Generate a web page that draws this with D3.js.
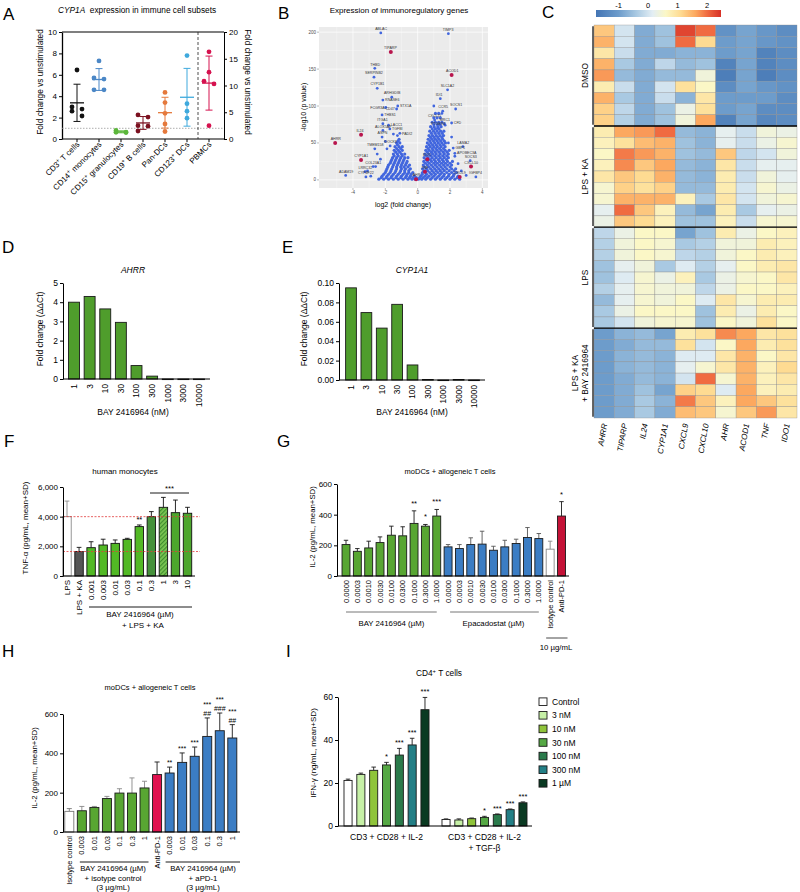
<!DOCTYPE html>
<html lang="en">
<head>
<meta charset="UTF-8">
<title>BAY 2416964 - immune cell figure</title>
<script src="https://d3js.org/d3.v7.min.js"></script>
<style>
  body { margin: 0; background: #fff; }
  svg { font-family: "Liberation Sans", Arial, sans-serif; display: block; }
</style>
</head>
<body>
<svg id="fig" width="800" height="892"></svg>
<script>
// ---------- A : CYP1A in immune cell subsets ----------
const subsets = ["CD3^+ T cells", "CD14^+ monocytes", "CD15^+ granulocytes", "CD19^+ B cells", "Pan-DCs", "CD123^+ DCs", "PBMCs"];
const subsetValues = [[6.45, 3.0, 2.8, 2.6, 2.15], [7.3, 5.7, 5.6, 4.6, 4.6], [0.8, 0.65, 0.62, 0.6], [2.25, 2.05, 1.25, 1.2, 0.75],
                      [4.35, 3.4, 2.4, 1.4, 0.7], [7.8, 3.3, 2.6, 1.95], [16.3, 12.5, 10.8, 10.3, 2.5]];
const subsetMean = [3.38, 5.56, 0.67, 1.5, 2.46, 3.9, 10.45];
const subsetSD = [1.74, 1.02, 0.09, 0.6, 1.44, 2.7, 5.05];

// ---------- B : volcano ----------
// y level (-log10 p) and the log2 fold changes found at that level
const volcanoLevels = [1, 5, 10, 15, 20, 25, 30, 35, 40, 45, 50, 55, 60, 66, 72, 78, 84, 90,
                       3, 7.5, 12.5, 17.5, 22.5, 27.5, 32.5, 37.5, 42.5, 47.5, 52.5, 57.5, 63, 69, 75];
const volcanoFC = [
  [-2.4, -2.1, -1.8, -1.5, -1.2, -0.9, -0.6, -0.35, -0.15, 0.05, 0.25, 0.5, 0.8, 1.1, 1.4, 1.7, 2.0, 2.3, 2.6],
  [-2.2, -1.9, -1.6, -1.3, -1.0, -0.7, -0.45, -0.2, 0.2, 0.45, 0.7, 1.0, 1.3, 1.6, 1.9, 2.2, 2.5],
  [-2.0, -1.7, -1.4, -1.1, -0.8, -0.55, -0.3, 0.3, 0.5, 0.75, 1.0, 1.25, 1.5, 1.8, 2.1, 2.4],
  [-1.9, -1.6, -1.3, -1.0, -0.75, -0.45, 0.3, 0.55, 0.8, 1.05, 1.3, 1.55, 1.8, 2.1, 2.35],
  [-1.8, -1.5, -1.25, -1.0, -0.75, -0.5, 0.35, 0.6, 0.85, 1.1, 1.35, 1.6, 1.85, 2.1],
  [-1.65, -1.4, -1.15, -0.9, -0.65, 0.38, 0.62, 0.86, 1.1, 1.35, 1.6, 1.85, 2.15],
  [-1.55, -1.3, -1.05, -0.8, -0.6, 0.4, 0.65, 0.9, 1.15, 1.4, 1.65, 1.9],
  [-1.5, -1.25, -1.0, -0.8, 0.45, 0.68, 0.92, 1.15, 1.4, 1.65, 1.9],
  [-1.45, -1.2, -0.95, 0.5, 0.72, 0.95, 1.2, 1.45, 1.7, 1.95],
  [-1.4, -1.15, -0.95, 0.55, 0.78, 1.0, 1.22, 1.45, 1.7],
  [-1.3, -1.1, 0.6, 0.82, 1.05, 1.28, 1.5, 1.72],
  [-1.15, 0.65, 0.88, 1.1, 1.32, 1.55],
  [0.7, 0.92, 1.15, 1.38, 1.6],
  [0.75, 0.98, 1.2, 1.42, 1.62],
  [0.8, 1.02, 1.25, 1.45],
  [0.9, 1.1, 1.3, 1.5],
  [1.0, 1.2, 1.4],
  [1.1, 1.3],
  [-2.25, -1.95, -1.65, -1.35, -1.05, -0.75, -0.5, -0.28, -0.08, 0.12, 0.35, 0.6, 0.9, 1.2, 1.5, 1.8, 2.1, 2.45],
  [-2.1, -1.8, -1.5, -1.2, -0.9, -0.65, -0.4, 0.28, 0.55, 0.85, 1.1, 1.4, 1.65, 1.95, 2.25],
  [-1.95, -1.65, -1.35, -1.05, -0.8, -0.55, 0.38, 0.62, 0.9, 1.15, 1.4, 1.65, 1.95, 2.25],
  [-1.85, -1.55, -1.3, -1.05, -0.85, -0.6, 0.42, 0.7, 0.95, 1.2, 1.45, 1.7, 2.0],
  [-1.7, -1.45, -1.2, -0.95, -0.7, 0.48, 0.72, 1.0, 1.22, 1.48, 1.72, 2.0],
  [-1.6, -1.35, -1.1, -0.85, 0.52, 0.78, 1.02, 1.28, 1.52, 1.78],
  [-1.45, -1.2, -0.95, 0.55, 0.8, 1.05, 1.3, 1.55, 1.8],
  [-1.35, -1.1, 0.6, 0.85, 1.08, 1.32, 1.58, 1.82],
  [-1.3, -1.05, 0.65, 0.9, 1.12, 1.35, 1.6],
  [-1.25, 0.7, 0.92, 1.15, 1.38, 1.6],
  [-1.2, 0.75, 0.98, 1.2, 1.42, 1.65],
  [0.8, 1.02, 1.25, 1.5],
  [0.85, 1.08, 1.3, 1.52],
  [0.9, 1.1, 1.32],
  [1.0, 1.22, 1.38]
];
const volcanoExtra = [[-2.6, 18], [-2.9, 5], [-3.1, 12], [2.7, 12], [3.0, 6], [-2.3, 28], [2.3, 32], [-1.9, 42], [1.9, 50],
                      [-2.0, 52], [2.1, 58], [1.7, 74], [1.5, 90], [-1.5, 62], [-1.25, 60], [1.0, 100], [2.5, 22], [-2.5, 35]];
const volcanoGenes = [
  ["ABLAC", -2.28, 199], ["THBD", -2.65, 151], ["SERPINB2", -2.7, 139], ["CYP1B1", -2.5, 124], ["ARHGDIB", -1.6, 112],
  ["RNASE6", -2.15, 108], ["STX1A", -1.23, 100], ["FCGR3A", -1.97, 98], ["CD47", -1.3, 96], ["THBS1", -2.2, 88],
  ["ITGA1", -2.15, 76], ["LACC1", -1.8, 74], ["TGFBI", -1.72, 69], ["ALOX5AP", -2.15, 67], ["PADI2", -1.1, 63],
  ["ASPN", -2.2, 58], ["DOCK8", -1.7, 46], ["TMEM158", -2.65, 42], ["COL23A1", -2.75, 18], ["LRRC32", -3.25, 11],
  ["CYP4F22", -3.2, 4], ["ADAM19", -4.45, 6], ["TIMP3", 1.9, 198], ["SLC1A2", 1.85, 122], ["IDI1", 1.4, 110],
  ["CCR5", 1.55, 93], ["SOCS1", 2.35, 96], ["CXCL11", 1.05, 81], ["MRC1", 1.65, 76], ["CFD", 2.1, 77],
  ["PTGER4", 1.25, 70], ["LAMA2", 2.8, 45], ["GBP1", 2.2, 43], ["APOBEC3A", 2.3, 36], ["SOCS3", 3.25, 26], ["IGFBP4", 3.6, 4]
];
const volcanoHits = [["TIPARP", -1.66, 173], ["IL24", -3.5, 61], ["AHRR", -5.1, 50], ["CYP1A1", -3.5, 27], ["ACOD1", 2.1, 142],
                     ["CXCL10", 3.3, 18], ["CXCL9", 2.6, 4], ["TNF", 0.45, 11], ["IDO1", 0.6, 28], ["AHR", -0.1, 1]];

// ---------- C : heatmap ----------
const heatGenes = ["AHRR", "TIPARP", "IL24", "CYP1A1", "CXCL9", "CXCL10", "AHR", "ACOD1", "TNF", "IDO1"];
const heatGroups = ["DMSO", "LPS + KA", "LPS", "LPS + KA|+ BAY 2416964"];
const heatRows = [9, 9, 9, 8];
const heatValues = [
  [1.3, 0.0, -0.8, -0.5, 2.3, 2.0, -1.2, -0.9, -1.1, -1.3],
  [1.5, 0.0, -0.8, -0.5, 2.0, 1.1, -1.0, -0.9, -1.1, -1.2],
  [0.9, -0.1, -0.8, -0.8, -0.7, -0.7, -1.0, -0.9, -1.5, -1.3],
  [1.5, -0.4, -0.8, -0.2, -0.6, -0.5, -1.5, -0.9, -1.5, -1.3],
  [1.7, -0.6, -0.8, -0.6, -0.6, 0.4, -1.6, -0.9, -1.6, -1.3],
  [0.8, -0.1, -0.8, 0.0, 1.0, 0.6, -1.3, -0.9, -1.1, -1.2],
  [1.5, -0.4, -0.8, -0.1, -0.7, 0.9, -1.0, -1.0, -1.0, -1.3],
  [1.2, -0.2, -0.8, -0.5, 0.3, 1.0, -1.0, -0.9, -1.3, -1.3],
  [1.2, -0.3, -0.8, -0.5, 0.4, 1.6, -1.5, -0.9, -1.4, -1.3],
  [0.8, 1.6, 1.7, 2.0, -0.6, -0.7, 0.2, -0.1, 0.4, 0.3],
  [0.7, 1.0, 1.4, 1.5, -0.5, -0.7, 0.2, -0.1, 0.3, 0.5],
  [0.6, 1.9, 1.7, 1.5, -0.5, -0.6, 1.3, -0.2, 0.0, 0.4],
  [0.7, 1.8, 1.3, 1.6, -0.6, -0.7, 0.9, -0.1, 0.2, 0.2],
  [0.9, 1.3, 1.1, 1.5, -0.6, -0.7, 0.8, -0.1, 0.4, 0.2],
  [0.5, 1.2, 1.0, 1.2, -0.6, -0.6, 0.8, 0.0, 0.5, 0.3],
  [0.5, 1.5, 1.5, 1.5, 0.7, -0.4, 0.9, 0.0, 0.4, 0.5],
  [0.2, 2.0, 1.3, 0.7, -0.6, -0.9, 0.8, -0.4, 0.2, 0.3],
  [0.3, 1.3, 1.1, 0.7, -0.5, -0.5, 0.7, -0.1, 0.5, 0.5],
  [-0.2, 0.3, 0.6, 0.6, -0.9, -0.5, 0.8, 0.3, 0.6, 0.7],
  [-0.3, 0.4, 0.6, 0.5, -0.4, -0.3, 0.4, 0.4, 0.8, 0.7],
  [-0.3, 0.4, 0.6, 0.5, -0.2, -0.3, 0.4, 0.6, 0.8, 0.7],
  [-0.5, 0.2, 0.4, -0.4, 0.1, -0.3, 0.2, 0.6, 0.8, 0.9],
  [-0.5, 0.1, 0.5, 0.3, 0.7, -0.4, 0.3, 0.5, 0.6, 0.9],
  [-0.3, 0.2, 0.5, 0.4, 0.4, -0.2, 0.3, 0.6, 0.6, 0.7],
  [-0.6, 0.2, 0.5, 0.4, 0.6, 0.1, 0.9, 0.5, 0.8, 0.8],
  [-0.4, 0.3, 0.6, 0.6, 0.6, -0.5, 0.8, 0.3, 0.8, 0.6],
  [-0.4, 0.0, 0.4, 0.5, 0.5, -0.5, 0.6, 0.4, 1.0, 0.6],
  [-1.0, -0.7, -0.6, -0.9, 0.8, 1.0, 1.8, 1.6, 0.9, 1.0],
  [-1.0, -0.8, -0.6, -0.6, 1.0, 0.0, 0.6, 1.6, 0.8, 1.0],
  [-1.0, -0.7, -0.6, -0.7, 0.1, 0.1, 0.9, 1.5, 0.6, 0.9],
  [-1.0, -0.7, -0.6, -0.7, 0.2, 0.5, 0.9, 1.5, 0.7, 1.1],
  [-1.0, -0.8, -0.6, -0.7, 0.0, 2.0, 0.5, 1.5, 0.7, 0.9],
  [-1.0, -0.8, -0.5, -0.9, 1.2, 1.1, 0.1, 1.6, 0.7, 0.8],
  [-1.0, -0.8, -0.4, -0.7, 1.9, 1.3, 0.7, 1.6, 1.3, 1.0],
  [-1.0, -0.8, -0.4, -0.8, 1.4, 1.3, 0.5, 1.3, 1.7, 0.9]
];
const heatTicks = [-1, 0, 1, 2];

// ---------- D / E : dose response ----------
const doseNM = ["1", "3", "10", "30", "100", "300", "1000", "3000", "10000"];
const ahrrFold = [4.0, 4.3, 3.65, 2.95, 0.7, 0.15, 0, 0, 0];
const cyp1a1Fold = [0.095, 0.0695, 0.0535, 0.078, 0.0155, 0.0005, 0, 0.0005, 0];

// ---------- F : TNF-a in monocytes ----------
const tnfLabels = ["LPS", "LPS + KA", "0.001", "0.003", "0.01", "0.03", "0.1", "0.3", "1", "3", "10"];
const tnfMean = [4000, 1650, 1910, 2090, 2200, 2470, 3330, 4000, 4630, 4270, 4230];
const tnfSD = [1050, 280, 400, 390, 230, 70, 110, 340, 670, 850, 400];
const tnfSig = ["", "", "", "", "", "", "**", "", "", "", ""];
const tnfRefLines = [4000, 1650];

// ---------- G : IL-2, moDC + T cells ----------
const gDoses = ["0.0000", "0.0003", "0.0010", "0.0030", "0.0100", "0.0300", "0.1000", "0.3000", "1.0000"];
const gBayMean = [205, 161, 183, 218, 266, 262, 343, 325, 391];
const gBaySD = [28, 18, 44, 37, 59, 59, 82, 11, 43];
const gBaySig = ["", "", "", "", "", "", "**", "*", "***"];
const gEpaMean = [190, 179, 205, 208, 168, 190, 212, 251, 244];
const gEpaSD = [15, 26, 44, 84, 26, 43, 28, 65, 33];
const gCtrlLabels = ["Isotype control", "Anti-PD-1"];
const gCtrlMean = [175, 391];
const gCtrlSD = [52, 94];
const gCtrlSig = ["", "*"];

// ---------- H : IL-2 with aPD-1 ----------
const hLabels = ["Isotype control", "0.003", "0.01", "0.03", "0.1", "0.3", "1", "Anti-PD-1", "0.003", "0.01", "0.03", "0.1", "0.3", "1"];
const hMean = [105, 108, 125, 170, 198, 198, 224, 292, 300, 354, 385, 486, 515, 478];
const hSD = [14, 22, 5, 11, 22, 77, 34, 64, 30, 48, 47, 94, 90, 68];
const hSigStar = ["", "", "", "", "", "", "", "", "**", "***", "***", "***", "***", "***"];
const hSigHash = ["", "", "", "", "", "", "", "", "", "", "", "##", "###", "##"];

// ---------- I : IFN-g in CD4+ T cells ----------
const iDoses = ["Control", "3 nM", "10 nM", "30 nM", "100 nM", "300 nM", "1 \u00b5M"];
const iGroups = ["CD3 + CD28 + IL-2", "CD3 + CD28 + IL-2|+ TGF-\u03b2"];
const iMean = [[21.2, 24.0, 25.9, 28.4, 33.0, 37.7, 54.1], [3.0, 2.8, 3.4, 4.0, 5.3, 7.6, 10.8]];
const iSD = [[0.6, 0.6, 1.5, 1.2, 3.1, 3.1, 5.7], [0.3, 0.5, 0.3, 0.5, 0.3, 0.3, 0.4]];
const iSig = [["", "", "", "*", "***", "***", "***"], ["", "", "", "*", "***", "***", "***"]];

// =====================================================================
const svg = d3.select("#fig");
const defs = svg.append("defs");

function text(x, y, s, fs, anchor, g) {
  return (g || svg).append("text").attr("x", x).attr("y", y)
    .attr("font-size", fs).attr("text-anchor", anchor || "start").text(s);
}
// "CD3^+" -> superscript "+"
function rich(t, s, fs) {
  let back = 0;
  s.split(/(\^.)/).forEach(p => {
    if (!p) return;
    if (p[0] === "^") {
      t.append("tspan").attr("dy", -fs * 0.38).attr("font-size", fs * 0.7).text(p.slice(1));
      back = fs * 0.38;
    } else {
      t.append("tspan").attr("dy", back).text(p);
      back = 0;
    }
  });
  return t;
}
function line(x1, y1, x2, y2, color, w, dash) {
  return svg.append("line").attr("x1", x1).attr("y1", y1).attr("x2", x2).attr("y2", y2)
    .attr("stroke", color || "#000").attr("stroke-width", w || 1).attr("stroke-dasharray", dash || null);
}
function panelLetter(s, x, y) { text(x, y, s, 17); }
function yTitle(x, y, s, fs) {
  return svg.append("text").attr("transform", `translate(${x},${y}) rotate(-90)`)
    .attr("text-anchor", "middle").attr("font-size", fs).text(s);
}
function leftAxis(scale, x, ticks, fmt, fs) {
  const g = svg.append("g").attr("transform", `translate(${x},0)`)
    .call(d3.axisLeft(scale).tickValues(ticks).tickFormat(fmt || d3.format("d"))
      .tickSize(3).tickSizeOuter(0).tickPadding(2));
  g.attr("font-family", null).attr("font-size", fs);
  g.selectAll("line,path").attr("stroke", "#000");
  return g;
}
function rotLabels(xs, labels, y, fs) {
  labels.forEach((s, i) => {
    svg.append("text").attr("transform", `translate(${xs[i]},${y}) rotate(-90)`)
      .attr("text-anchor", "end").attr("dy", "0.35em").attr("font-size", fs).text(s);
  });
}
// band whose centres sit at c0 ... cN
function bandX(domain, c0, cN, pad) {
  const s = (cN - c0) / (domain.length - 1);
  return d3.scaleBand().domain(domain).range([c0 - s / 2, cN + s / 2]).paddingInner(pad).paddingOuter(pad / 2);
}
function drawBars(xs, bw, y, means, sds, fillOf, strokeOf, errOf) {
  means.forEach((m, i) => {
    const top = y(m), base = y(0);
    if (sds && sds[i] > 0) {
      const e = y(m + sds[i]);
      const c = errOf ? errOf(i) : strokeOf(i);
      line(xs[i], top, xs[i], e, c, 0.9);
      line(xs[i] - bw * 0.28, e, xs[i] + bw * 0.28, e, c, 0.9);
    }
    svg.append("rect").attr("x", xs[i] - bw / 2).attr("y", top).attr("width", bw).attr("height", Math.max(base - top, 0.6))
      .attr("fill", fillOf(i)).attr("stroke", strokeOf(i)).attr("stroke-width", 0.9);
  });
}
function sigText(x, yTop, s, fs) {
  if (s) text(x, yTop - 3, s, fs, "middle");
}
// points spread left / right when they overlap
function swarm(vals, y, cx) {
  const sorted = vals.slice().sort((a, b) => b - a);
  const out = [];
  let cluster = [];
  const flush = () => {
    cluster.forEach((v, k) => out.push([cx + (cluster.length === 1 ? 0 : (k % 2 ? 5 : -5)), y(v)]));
    cluster = [];
  };
  sorted.forEach(v => {
    if (cluster.length && y(v) - y(cluster[cluster.length - 1]) >= 5) flush();
    cluster.push(v);
  });
  flush();
  return out;
}

// ---------------- A ----------------
function drawA() {
  panelLetter("A", 3, 20);
  const t = text(58, 13, "", 8.3);
  t.append("tspan").attr("font-style", "italic").text("CYP1A");
  t.append("tspan").text("\u00a0 expression in immune cell subsets");
  const subsetColors = ["#111111", "#4b87c6", "#5cb73b", "#7b1120", "#e5793c", "#3fa9dd", "#d5124f"];
  const x = d3.scalePoint().domain(subsets).range([77, 209]);
  const yL = d3.scaleLinear().domain([0, 10]).range([139, 32]);
  const yR = d3.scaleLinear().domain([0, 20]).range([139, 32]);
  leftAxis(yL, 62, d3.range(0, 11, 2), null, 8).select(".domain").attr("stroke-width", 1.3);
  const r = svg.append("g").attr("transform", "translate(224,0)")
    .call(d3.axisRight(yR).tickValues(d3.range(0, 21, 5)).tickSize(3).tickSizeOuter(0).tickPadding(2));
  r.attr("font-family", null).attr("font-size", 8);
  r.selectAll("line,path").attr("stroke", "#000");
  line(62, 32, 224, 32, "#000", 1.1);
  line(62, 139, 224, 139, "#000", 1.1);
  line(62, yL(1), 224, yL(1), "#999", 0.8, "1.5,1.5");
  line(198, 32, 198, 139, "#222", 0.8, "3,2");
  subsets.forEach((s, i) => {
    const y = i === 6 ? yR : yL;
    const col = subsetColors[i], cx = x(s);
    const m = subsetMean[i], sd = subsetSD[i];
    line(cx, 139, cx, 142);
    line(cx, y(m - sd), cx, y(m + sd), col, 1);
    line(cx - 3.5, y(m + sd), cx + 3.5, y(m + sd), col, 1);
    line(cx - 3.5, y(m - sd), cx + 3.5, y(m - sd), col, 1);
    line(cx - 7, y(m), cx + 7, y(m), col, 1.3);
    swarm(subsetValues[i], y, cx).forEach(p =>
      svg.append("circle").attr("cx", p[0]).attr("cy", p[1]).attr("r", 2.4).attr("fill", col));
    rich(svg.append("text").attr("transform", `translate(${cx + 3},145) rotate(-45)`)
      .attr("text-anchor", "end").attr("font-size", 8), s, 8);
  });
  yTitle(43, 82, "Fold change vs unstimulated", 8.3);
  svg.append("text").attr("transform", "translate(245,82) rotate(90)").attr("text-anchor", "middle")
    .attr("font-size", 8.3).text("Fold change vs unstimulated");
}

// ---------------- B ----------------
function drawB() {
  panelLetter("B", 278, 19);
  text(399, 13, "Expression of immunoregulatory genes", 8, "middle");
  const x = d3.scaleLinear().domain([-6.1, 4.35]).range([319, 488]);
  const y = d3.scaleLinear().domain([-11, 207]).range([188, 27]);
  svg.append("rect").attr("x", 319).attr("y", 27).attr("width", 169).attr("height", 161).attr("fill", "#ebebeb");
  d3.range(-5, 5).forEach(v => line(x(v), 27, x(v), 188, "#fff", v % 2 === 0 ? 0.7 : 0.3));
  d3.range(0, 201, 25).forEach(v => line(319, y(v), 488, y(v), "#fff", v % 50 === 0 ? 0.7 : 0.3));
  [-4, -2, 0, 2, 4].forEach(v => {
    line(x(v), 188, x(v), 190, "#555", 0.4);
    text(x(v), 194, v, 4.5, "middle").attr("fill", "#4d4d4d");
  });
  [0, 50, 100, 150, 200].forEach(v => {
    line(317, y(v), 319, y(v), "#555", 0.4);
    text(316, y(v) + 1.5, v, 4.5, "end").attr("fill", "#4d4d4d");
  });
  const g = svg.append("g");
  volcanoLevels.forEach((lv, k) => volcanoFC[k].forEach(fc =>
    g.append("circle").attr("cx", x(fc)).attr("cy", y(lv)).attr("r", 1.6).attr("fill", "#4166de")));
  volcanoExtra.concat(volcanoGenes.map(d => [d[1], d[2]])).forEach(p =>
    g.append("circle").attr("cx", x(p[0])).attr("cy", y(p[1])).attr("r", 1.4).attr("fill", "#4166de"));
  volcanoHits.forEach(d =>
    g.append("circle").attr("cx", x(d[1])).attr("cy", y(d[2])).attr("r", 2).attr("fill", "#b8154d"));
  // simple label repel: above, right, left, below - first free spot wins
  const fs = 3.6, boxes = [];
  volcanoHits.concat(volcanoGenes).forEach(d => {
    const px = x(d[1]), py = y(d[2]);
    const w = d[0].length * fs * 0.62, h = fs;
    const cands = [[px - w / 2, py - 2.2 - h], [px + 2.2, py - h / 2], [px - 2.2 - w, py - h / 2], [px - w / 2, py + 2.2],
                   [px + 2, py - 2 - h], [px - 2 - w, py - 2 - h]];
    const free = c => boxes.every(b => c[0] > b[0] + b[2] || c[0] + w < b[0] || c[1] > b[1] + b[3] || c[1] + h < b[1]);
    const c = cands.find(free) || cands[0];
    boxes.push([c[0], c[1], w, h]);
    text(c[0], c[1] + h * 0.82, d[0], fs, "start").attr("fill", "#333");
  });
  yTitle(306, 107, "-log10 (p value)", 7);
  text(403, 207, "log2 (fold change)", 7, "middle");
}

// ---------------- C ----------------
function drawC() {
  panelLetter("C", 542, 18);
  const stops = [-1.77, -1, -0.4, 0.15, 0.6, 1.1, 1.6, 2.0, 2.47];
  const cols = ["#4475b4", "#6d9ccb", "#a9c9e2", "#e3eef4", "#fbf7c6", "#fedb92", "#fca85f", "#f06b41", "#d73027"];
  const color = d3.scaleLinear().domain(stops).range(cols).clamp(true);
  const cb = d3.scaleLinear().domain([-1.77, 2.47]).range([596, 721]);
  const grad = defs.append("linearGradient").attr("id", "cbar");
  stops.forEach((s, i) => grad.append("stop").attr("offset", (cb(s) - 596) / 125).attr("stop-color", cols[i]));
  svg.append("rect").attr("x", 596).attr("y", 10).attr("width", 125).attr("height", 7).attr("fill", "url(#cbar)");
  heatTicks.forEach(v => text(cb(v), 7.5, v, 7.5, "middle"));

  const x = d3.scaleBand().domain(heatGenes).range([594, 797]);
  const y = d3.scaleBand().domain(d3.range(heatValues.length)).range([25, 418]);
  heatValues.forEach((row, r) => row.forEach((v, c) =>
    svg.append("rect").attr("x", x(heatGenes[c])).attr("y", y(r)).attr("width", x.bandwidth()).attr("height", y.bandwidth())
      .attr("fill", color(v)).attr("stroke", "#8c8c8c").attr("stroke-width", 0.35)));
  let start = 0;
  heatGroups.forEach((name, k) => {
    const n = heatRows[k];
    const y0 = y(start), y1 = y(start + n - 1) + y.bandwidth();
    line(593, y0 + 1.2, 593, y1 - 1.2, "#000", 1.2);
    if (k > 0) line(594, y0, 797, y0, "#000", 1.4);
    const parts = name.split("|");
    parts.forEach((p, j) => {
      const bx = 588 - (parts.length - 1 - j) * 10;
      svg.append("text").attr("transform", `translate(${bx},${(y0 + y1) / 2}) rotate(-90)`)
        .attr("text-anchor", "middle").attr("font-size", 8.3).text(p);
    });
    start += n;
  });
  heatGenes.forEach(gn =>
    svg.append("text").attr("transform", `translate(${x(gn) + x.bandwidth() / 2 + 3},424) rotate(-80)`)
      .attr("text-anchor", "end").attr("font-size", 8).attr("font-style", "italic").text(gn));
}

// ---------------- D / E ----------------
function drawDose(o) {
  panelLetter(o.letter, o.lx, 253);
  const x = bandX(doseNM, o.c0, o.cN, 0.3);
  const y = d3.scaleLinear().domain([0, o.max]).range([o.base, 283]);
  const xs = doseNM.map(d => x(d) + x.bandwidth() / 2);
  drawBars(xs, x.bandwidth(), y, o.values, null, () => "#4f9d2c", () => "#1a1a1a");
  leftAxis(y, o.ax, d3.range(0, o.max + o.max / 100, o.step), o.fmt, 8.5);
  line(o.ax, o.base, o.axEnd, o.base);
  rotLabels(xs, doseNM, o.base + 5, 8.3);
  text(o.tx, 273, o.title, 8.5, "middle").attr("font-style", "italic");
  text(o.tx, 415, "BAY 2416964 (nM)", 8.5, "middle");
  yTitle(o.ytx, 329, "Fold change (\u0394\u0394Ct)", 8.5);
}

// ---------------- F ----------------
function drawF() {
  panelLetter("F", 4, 447);
  text(125, 474, "human monocytes", 8, "middle");
  const x = bandX(d3.range(tnfLabels.length), 67, 187.5, 0.3);
  const y = d3.scaleLinear().domain([0, 6000]).range([576, 487]);
  const xs = tnfLabels.map((d, i) => x(i) + x.bandwidth() / 2);
  const pat = defs.append("pattern").attr("id", "hatch").attr("patternUnits", "userSpaceOnUse")
    .attr("width", 3).attr("height", 3).attr("patternTransform", "rotate(45)");
  pat.append("rect").attr("width", 3).attr("height", 3).attr("fill", "#7cc653");
  pat.append("rect").attr("width", 1.2).attr("height", 3).attr("fill", "#3f8f2e");
  const fills = i => i === 0 ? "#fff" : i === 1 ? "#555" : i === 7 ? "#45913b" : i === 8 ? "url(#hatch)" : i > 8 ? "#4da62d" : "#52b925";
  drawBars(xs, x.bandwidth(), y, tnfMean, tnfSD, fills, i => i === 0 ? "#8a8a8a" : "#111");
  tnfRefLines.forEach(v => line(63, y(v), 200, y(v), "#e23b3b", 0.8, "2,1.5"));
  leftAxis(y, 63, [0, 2000, 4000, 6000], d3.format(","), 8);
  line(63, 576, 195, 576);
  rotLabels(xs, tnfLabels, 580, 8);
  tnfSig.forEach((s, i) => sigText(xs[i], y(tnfMean[i] + tnfSD[i]), s, 7.5));
  line(150, 493, 189, 493, "#000", 0.9);
  text(169.5, 491, "***", 7.5, "middle");
  line(89, 607, 192, 607, "#000", 0.9);
  text(140, 617, "BAY 2416964 (\u00b5M)", 8, "middle");
  text(143, 628, "+ LPS + KA", 8, "middle");
  yTitle(28, 528, "TNF-\u03b1 (pg/mL, mean+SD)", 8);
}

// ---------------- G ----------------
function drawG() {
  panelLetter("G", 277, 447);
  text(450, 474, "moDCs + allogeneic T cells", 7.5, "middle");
  const labels = gDoses.concat(gDoses, gCtrlLabels);
  const means = gBayMean.concat(gEpaMean, gCtrlMean);
  const sds = gBaySD.concat(gEpaSD, gCtrlSD);
  const sig = gBaySig.concat(gDoses.map(() => ""), gCtrlSig);
  const x = bandX(d3.range(labels.length), 346, 561.5, 0.3);
  const y = d3.scaleLinear().domain([0, 600]).range([576, 484]);
  const xs = labels.map((d, i) => x(i) + x.bandwidth() / 2);
  const fills = i => i < 9 ? "#58a632" : i < 18 ? "#3b7dc4" : i === 18 ? "#fff" : "#c41237";
  drawBars(xs, x.bandwidth(), y, means, sds, fills, i => i === 18 ? "#888" : "#1a1a1a",
    i => i < 9 ? "#1a1a1a" : i < 18 ? "#555" : i === 18 ? "#888" : "#1a1a1a");
  leftAxis(y, 337, [0, 200, 400, 600], null, 8);
  line(337, 576, 569, 576);
  rotLabels(xs, labels, 580, 7.5);
  sig.forEach((s, i) => sigText(xs[i], y(means[i] + sds[i]) - 2, s, 7.5));
  line(xs[0], 612, xs[8], 612, "#777", 1);
  text((xs[0] + xs[8]) / 2, 626, "BAY 2416964 (\u00b5M)", 7.8, "middle");
  line(xs[9] + 2, 612, xs[17], 612, "#777", 1);
  text((xs[9] + xs[17]) / 2, 626, "Epacadostat (\u00b5M)", 7.8, "middle");
  line(xs[18] - 4, 638, xs[19] + 6, 638, "#333", 0.9);
  text(556, 650, "10 \u00b5g/mL", 7.8, "middle");
  yTitle(315, 527, "IL-2 (pg/mL, mean+SD)", 7.8);
}

// ---------------- H ----------------
function drawH() {
  panelLetter("H", 2, 657);
  text(150, 690, "moDCs + allogeneic T cells", 7.5, "middle");
  const x = bandX(d3.range(hLabels.length), 69.3, 232.3, 0.28);
  const y = d3.scaleLinear().domain([0, 600]).range([832, 714]);
  const xs = hLabels.map((d, i) => x(i) + x.bandwidth() / 2);
  const fills = i => i === 0 ? "#fff" : i < 7 ? "#58a632" : i === 7 ? "#e0124f" : "#3b7dc4";
  drawBars(xs, x.bandwidth(), y, hMean, hSD, fills, i => i === 0 ? "#777" : "#1a1a1a",
    i => i === 0 ? "#777" : i < 7 ? "#888" : "#1a1a1a");
  leftAxis(y, 63, [0, 200, 400, 600], null, 8);
  line(63, 832, 240, 832);
  rotLabels(xs, hLabels, 836, 7.5);
  hLabels.forEach((d, i) => {
    const e = y(hMean[i] + hSD[i]);
    if (hSigHash[i]) { text(xs[i], e - 2, hSigHash[i], 7, "middle"); text(xs[i], e - 11, hSigStar[i], 7, "middle"); }
    else sigText(xs[i], e + 1, hSigStar[i], 7);
  });
  line(xs[1] - 2, 862, xs[6] + 4, 862, "#000", 0.9);
  ["BAY 2416964 (\u00b5M)", "+ isotype control", "(3 \u00b5g/mL)"].forEach((s, k) => text(113, 871 + k * 9.5, s, 7.8, "middle"));
  line(xs[8] - 4, 862, 240, 862, "#000", 0.9);
  ["BAY 2416964 (\u00b5M)", "+ aPD-1", "(3 \u00b5g/mL)"].forEach((s, k) => text(203, 871 + k * 9.5, s, 7.8, "middle"));
  yTitle(37, 768, "IL-2  (pg/mL, mean+SD)", 7.8);
}

// ---------------- I ----------------
function drawI() {
  panelLetter("I", 286, 657);
  rich(text(439, 676, "", 8.3, "middle"), "CD4^+ T cells", 8.3);
  const doseCols = ["#ffffff", "#c6f0a6", "#8fc43a", "#55a844", "#2a7a4b", "#237f86", "#0a3a22"];
  const gx = d3.scaleBand().domain(iGroups).range([338, 533]).paddingInner(0.084).paddingOuter(0.037);
  const dx = d3.scaleBand().domain(iDoses).range([0, gx.bandwidth()]).paddingInner(0.37).paddingOuter(0.185);
  const y = d3.scaleLinear().domain([0, 60]).range([826, 697]);
  iGroups.forEach((grp, gi) => {
    const xs = iDoses.map(d => gx(grp) + dx(d) + dx.bandwidth() / 2);
    drawBars(xs, dx.bandwidth(), y, iMean[gi], iSD[gi], i => doseCols[i], () => "#1a1a1a");
    iSig[gi].forEach((s, i) => sigText(xs[i], y(iMean[gi][i] + iSD[gi][i]), s, 7.5));
    grp.split("|").forEach((p, k) => text(gx(grp) + gx.bandwidth() / 2, 840 + k * 11, p, 8.5, "middle"));
  });
  leftAxis(y, 338, [0, 20, 40, 60], null, 8.5);
  line(338, 826, 532, 826);
  yTitle(316, 753, "IFN-\u03b3 (ng/mL, mean+SD)", 8);
  iDoses.forEach((d, i) => {
    const cy = 701.7 + i * 13.6;
    svg.append("rect").attr("x", 539).attr("y", cy - 3.8).attr("width", 8).attr("height", 7.6)
      .attr("fill", doseCols[i]).attr("stroke", "#1a1a1a").attr("stroke-width", 0.9);
    text(552, cy + 3, d, 8.5);
  });
}

drawA();
drawB();
drawC();
drawDose({ letter: "D", lx: 2, c0: 74, cN: 199, ax: 63, axEnd: 210, base: 379, max: 5, step: 1, fmt: d3.format("d"),
  values: ahrrFold, title: "AHRR", tx: 133, ytx: 43 });
drawDose({ letter: "E", lx: 282, c0: 351, cN: 474, ax: 339, axEnd: 485, base: 380, max: 0.1, step: 0.02, fmt: d3.format(".2f"),
  values: cyp1a1Fold, title: "CYP1A1", tx: 412, ytx: 307 });
drawF();
drawG();
drawH();
drawI();
</script>
</body>
</html>
